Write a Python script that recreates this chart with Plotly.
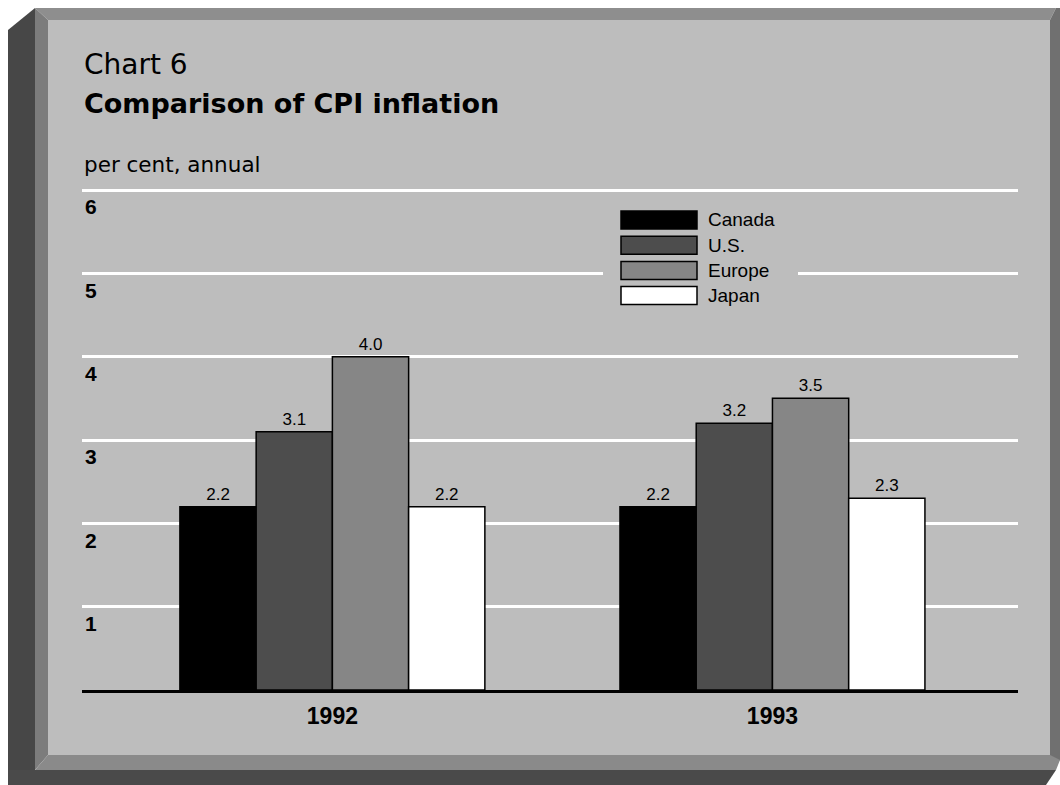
import plotly.graph_objects as go

# data
years = ["1992", "1993"]
series = ["Canada", "U.S.", "Europe", "Japan"]
canada = [2.2, 2.2]
us = [3.1, 3.2]
europe = [4.0, 3.5]
japan = [2.2, 2.3]
y_ticks = [1, 2, 3, 4, 5, 6]

colors = ["#000000", "#4d4d4d", "#868686", "#ffffff"]
panel = "#bdbdbd"

W, H = 1060, 785
Y_TOP = 6.03  # a little headroom so the top gridline is drawn


def px(x):
    return x / W


def py(y):
    return 1 - y / H


def poly(points, fill):
    path = "M " + " L ".join(f"{px(x):.5f},{py(y):.5f}" for x, y in points) + " Z"
    return dict(type="path", path=path, xref="paper", yref="paper",
                fillcolor=fill, line_width=0, layer="below")


fig = go.Figure()

for name, vals, col in zip(series, [canada, us, europe, japan], colors):
    fig.add_trace(go.Bar(
        x=years, y=vals, name=name,
        marker=dict(color=col, line=dict(color="black", width=1.5)),
        texttemplate="%{y:.1f}", textposition="outside",
        textfont=dict(family="Liberation Sans", size=17, color="black"),
        cliponaxis=False,
    ))

shapes = [
    # scanned board / frame
    poly([(48, 20), (1050, 20), (1050, 755), (48, 755)], panel),
    poly([(35, 8), (1056, 8), (1050, 20), (48, 20)], "#8e8e8e"),
    poly([(1050, 20), (1056, 8), (1060, 8), (1060, 760), (1050, 768)], "#707070"),
    poly([(8, 30), (35, 8), (35, 785), (8, 785)], "#474747"),
    poly([(35, 8), (48, 20), (48, 755), (35, 770)], "#7c7c7c"),
    poly([(35, 770), (48, 755), (1050, 755), (1060, 760), (1056, 770)], "#8a8a8a"),
    poly([(8, 770), (1056, 770), (1046, 785), (8, 785)], "#4a4a4a"),
    # legend backing covers the gridline
    dict(type="rect", x0=px(603), x1=px(798), y0=py(308), y1=py(200),
         xref="paper", yref="paper", fillcolor=panel, line_width=0, layer="above"),
]

annotations = []
for i, (name, col) in enumerate(zip(series, colors)):
    yc = 220 + 25.2 * i
    shapes.append(dict(type="rect", xref="paper", yref="paper",
                       x0=px(621), x1=px(697), y0=py(yc + 9), y1=py(yc - 9),
                       fillcolor=col, line=dict(color="black", width=1.5), layer="above"))
    annotations.append(dict(x=px(706), y=py(yc), xref="paper", yref="paper",
                            text=name, showarrow=False, xanchor="left", yanchor="middle",
                            font=dict(family="Liberation Sans", size=19, color="black")))

annotations += [
    dict(x=px(82), y=py(65), xref="paper", yref="paper", text="Chart 6",
         showarrow=False, xanchor="left", yanchor="middle",
         font=dict(family="DejaVu Sans", size=28, color="black")),
    dict(x=px(82), y=py(104), xref="paper", yref="paper", text="<b>Comparison of CPI inflation</b>",
         showarrow=False, xanchor="left", yanchor="middle",
         font=dict(family="DejaVu Sans", size=27, color="black")),
    dict(x=px(82), y=py(165), xref="paper", yref="paper", text="per cent, annual",
         showarrow=False, xanchor="left", yanchor="middle",
         font=dict(family="DejaVu Sans", size=21.5, color="black")),
]

fig.update_layout(
    width=W, height=H, autosize=False,
    margin=dict(l=0, r=0, t=0, b=0),
    paper_bgcolor="white", plot_bgcolor="rgba(0,0,0,0)",
    barmode="group", bargap=0.307, bargroupgap=0,
    showlegend=False,
    shapes=shapes, annotations=annotations,
    xaxis=dict(
        domain=[px(82), px(1018)], range=[-0.569, 1.558],
        showline=True, linecolor="black", linewidth=2.5, ticks="",
        showgrid=False, ticklabelstandoff=4,
        tickfont=dict(family="Liberation Sans", size=23, color="black"),
        tickprefix="<b>", ticksuffix="</b>",
    ),
    yaxis=dict(
        domain=[py(690), py(690 - Y_TOP * 500 / 6)], range=[0, Y_TOP],
        tickvals=y_ticks, ticktext=[f"<b>{v}</b>" for v in y_ticks],
        showgrid=True, gridcolor="white", gridwidth=3,
        zeroline=False, showline=False, ticks="",
        ticklabelposition="inside", ticklabelshift=17, ticklabelstandoff=0,
        tickfont=dict(family="Liberation Sans", size=21, color="black"),
    ),
)

fig.write_html("out.html", config={"displayModeBar": False},
               post_script="document.body.style.margin='0';")
